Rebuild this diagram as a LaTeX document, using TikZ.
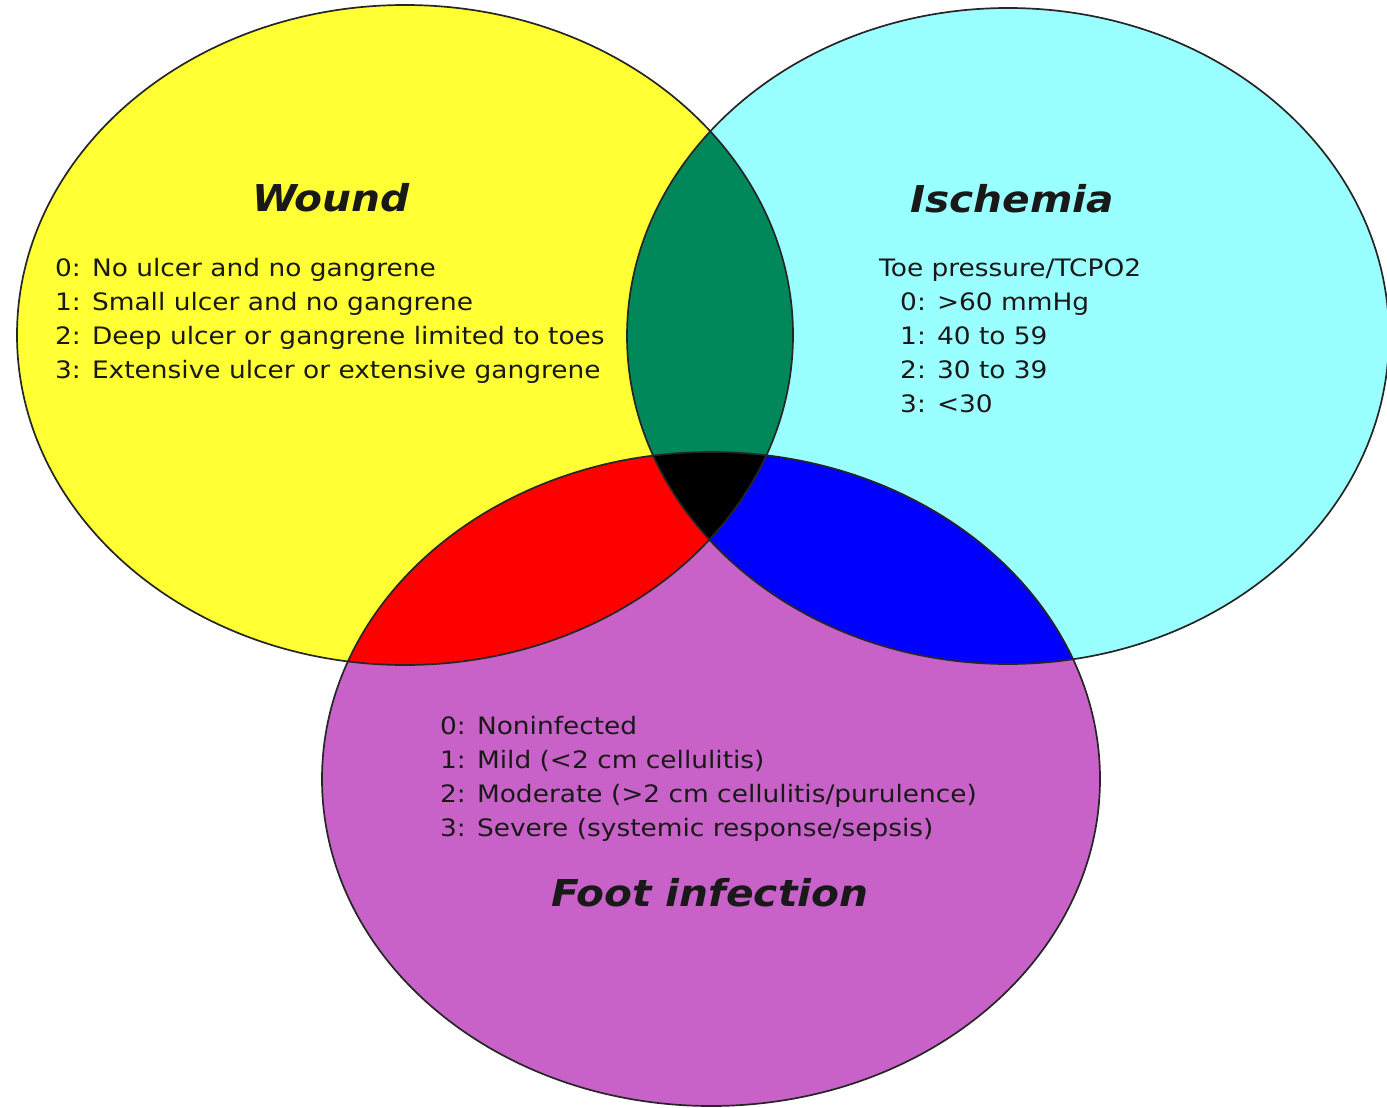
\documentclass[tikz,border=0pt]{standalone}
\usepackage{fontspec}
\setmainfont{DejaVu Sans}[FakeStretch=1.1]
\definecolor{cYel}{RGB}{255,255,51}
\definecolor{cCya}{RGB}{153,255,255}
\definecolor{cPur}{RGB}{200,98,200}
\definecolor{cGrn}{RGB}{0,136,90}
\definecolor{cRed}{RGB}{255,0,0}
\definecolor{cBlu}{RGB}{0,0,255}
\definecolor{cTxt}{RGB}{25,25,25}
\begin{document}
\begin{tikzpicture}[x=1pt,y=-1pt,
  outline/.style={draw=black!85,line width=1.7pt},
  body/.style={anchor=base west,inner sep=0pt,text=cTxt,font=\fontsize{24}{28}\selectfont},
  title/.style={anchor=center,inner sep=0pt,text=cTxt,font=\fontsize{37}{42}\selectfont\bfseries\itshape}]
\useasboundingbox (0,0) rectangle (1387,1108);
\fill[white] (0,0) rectangle (1387,1108);
\def\EW{(405,335) ellipse [x radius=388, y radius=330]}
\def\EI{(1008,336) ellipse [x radius=381, y radius=328]}
\def\EF{(711,779) ellipse [x radius=389, y radius=327]}
\fill[cYel] \EW;
\fill[cCya] \EI;
\fill[cPur] \EF;
\begin{scope}\clip \EW; \fill[cGrn] \EI; \end{scope}
\begin{scope}\clip \EW; \fill[cRed] \EF; \end{scope}
\begin{scope}\clip \EI; \fill[cBlu] \EF; \end{scope}
\begin{scope}\clip \EW; \clip \EI; \fill[black] \EF; \end{scope}
\draw[outline] \EW;
\draw[outline] \EI;
\draw[outline] \EF;
% Wound
\node[title] (wt) at (331,198) {Wound};
\node[body] (w0) at (55,276) {0: No ulcer and no gangrene};
\node[body] (w1) at (55,310) {1: Small ulcer and no gangrene};
\node[body] (w2) at (55,344) {2: Deep ulcer or gangrene limited to toes};
\node[body] (w3) at (55,378) {3: Extensive ulcer or extensive gangrene};
% Ischemia
\node[title] (it) at (1012,199) {Ischemia};
\node[body] (ih) at (879,276) {Toe pressure/TCPO2};
\node[body] (i0) at (900,310) {0: >60 mmHg};
\node[body] (i1) at (900,344) {1: 40 to 59};
\node[body] (i2) at (900,378) {2: 30 to 39};
\node[body] (i3) at (900,412) {3: <30};
% Foot infection
\node[body] (f0) at (440,734) {0: Noninfected};
\node[body] (f1) at (440,768) {1: Mild (<2 cm cellulitis)};
\node[body] (f2) at (440,802) {2: Moderate (>2 cm cellulitis/purulence)};
\node[body] (f3) at (440,836) {3: Severe (systemic response/sepsis)};
\node[title] (ft) at (710,893) {Foot infection};
\end{tikzpicture}
\end{document}
